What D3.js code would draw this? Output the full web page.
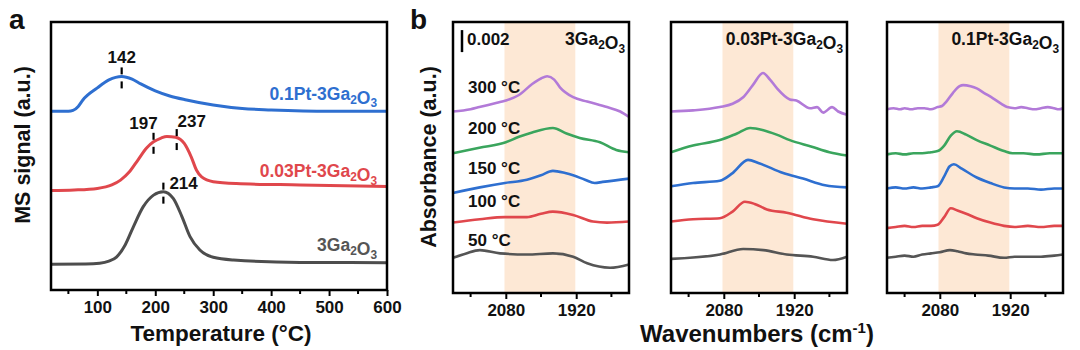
<!DOCTYPE html>
<html><head><meta charset="utf-8">
<script src="https://cdn.jsdelivr.net/npm/d3@7"></script>
<style>body{margin:0;background:#fff}svg{display:block;font-family:Arial,"Liberation Sans",sans-serif;font-weight:bold}</style>
</head><body>
<svg id="c" width="1080" height="350"></svg>
<script>
// ---------- Panel a : MS signal vs temperature ----------
const tempTicks = [100, 200, 300, 400, 500, 600];
const tempMinor = [50, 150, 250, 350, 450, 550];
const msNames = ["0.1Pt-3Ga2O3", "0.03Pt-3Ga2O3", "3Ga2O3"];
const msPt01 = [[20,6.67],[50,6.67],[58,6.70],[67,6.85],[75,7.09],[100,7.54],[120,7.84],[142,7.97],[160,7.87],[175,7.69],[200,7.43],[225,7.24],[254,7.09],[300,6.90],[350,6.77],[400,6.72],[500,6.67],[600,6.67]];
const msPt003 = [[20,3.71],[60,3.73],[100,3.79],[125,3.92],[140,4.10],[155,4.40],[170,4.85],[185,5.30],[197,5.53],[210,5.67],[220,5.73],[235,5.70],[250,5.47],[262,4.97],[271,4.48],[280,4.22],[300,4.04],[340,3.97],[450,3.92],[600,3.86]];
const msGa = [[20,0.96],[80,0.97],[104,1.00],[120,1.08],[133,1.23],[148,1.68],[162,2.35],[179,3.10],[197,3.54],[214,3.67],[231,3.42],[246,2.74],[260,1.99],[277,1.49],[300,1.22],[335,1.12],[450,1.03],[600,1.02]];
const peakTemps = [[142], [197, 237], [214]];

// ---------- Panel b : DRIFTS spectra (absorbance, 1e-3 a.u.) ----------
const wnTicks = [2080, 1920];
const wnMinor = [2160, 2000, 1840];
const bandRange = [2083, 1922];
const tempLabels = ["50 °C", "100 °C", "150 °C", "200 °C", "300 °C"];
const sampleNames = ["3Ga2O3", "0.03Pt-3Ga2O3", "0.1Pt-3Ga2O3"];
const scaleBar = 2; // 0.002 a.u.

const ga_50  = [[2200,3.2],[2170,3.6],[2139,3.9],[2093,3.6],[2032,3.5],[1973,3.6],[1927,3.3],[1895,2.7],[1843,2.3],[1800,2.6]];
const ga_100 = [[2200,6.4],[2139,6.7],[2082,6.9],[2032,6.9],[2000,7.2],[1973,7.4],[1927,7.1],[1882,6.5],[1850,6.4],[1800,6.5]];
const ga_150 = [[2200,9.1],[2139,9.6],[2082,10.0],[2032,10.3],[2000,10.7],[1973,11.1],[1945,10.9],[1927,10.7],[1900,10.3],[1878,10.0],[1860,10.1],[1800,10.4]];
const ga_200 = [[2200,12.7],[2140,13.2],[2080,13.7],[2050,14.2],[2020,14.6],[1973,15.0],[1942,14.5],[1912,14.1],[1866,13.7],[1829,13.0],[1800,12.8]];
const ga_300 = [[2200,16.5],[2160,16.7],[2140,16.9],[2100,17.3],[2080,17.5],[2050,18.0],[2020,19.0],[2000,19.5],[1986,19.7],[1970,19.4],[1957,18.7],[1927,17.8],[1895,17.4],[1850,16.9],[1820,16.5],[1800,16.0]];

const pt003_50  = [[2200,3.1],[2089,3.5],[2036,4.0],[1990,3.9],[1937,3.5],[1877,3.3],[1832,3.0],[1800,3.3]];
const pt003_100 = [[2200,6.5],[2150,6.7],[2089,6.8],[2060,7.4],[2032,8.3],[2010,8.1],[1982,7.6],[1937,7.3],[1877,6.7],[1800,6.3]];
const pt003_150 = [[2200,9.7],[2150,10.0],[2089,10.2],[2060,10.9],[2025,12.1],[2000,11.8],[1945,10.9],[1900,10.4],[1850,9.8],[1800,9.6]];
const pt003_200 = [[2200,12.8],[2150,13.4],[2089,13.9],[2050,14.5],[2020,15.0],[1990,14.8],[1960,14.4],[1930,13.9],[1880,13.3],[1840,12.8],[1800,12.5]];
const pt003_300 = [[2200,16.5],[2150,16.6],[2089,16.9],[2060,17.2],[2036,17.8],[2014,18.9],[1991,20.0],[1975,19.4],[1959,18.6],[1930,17.6],[1915,17.5],[1884,16.8],[1868,16.9],[1854,16.4],[1834,16.9],[1820,16.5],[1800,16.2]];

const pt01_50  = [[2200,3.2],[2180,3.3],[2160,3.4],[2140,3.3],[2120,3.5],[2100,3.6],[2080,3.7],[2057,3.9],[2040,3.8],[2020,3.6],[2000,3.5],[1970,3.4],[1934,3.2],[1910,3.3],[1880,3.3],[1850,3.3],[1820,3.4],[1800,3.5]];
const pt01_100 = [[2200,5.9],[2180,6.0],[2160,6.1],[2140,6.0],[2120,6.1],[2100,6.1],[2085,6.2],[2070,6.9],[2055,7.7],[2040,7.5],[2020,7.2],[1996,6.8],[1965,6.4],[1934,6.1],[1910,6.0],[1880,6.1],[1850,6.0],[1820,6.1],[1800,6.1]];
const pt01_150 = [[2200,9.5],[2180,9.6],[2160,9.5],[2140,9.6],[2120,9.5],[2100,9.6],[2085,9.7],[2070,10.6],[2058,11.5],[2048,11.7],[2030,11.3],[1996,10.5],[1965,10.0],[1934,9.6],[1910,9.5],[1880,9.5],[1850,9.4],[1820,9.5],[1800,9.5]];
const pt01_200 = [[2200,12.6],[2180,12.7],[2160,12.6],[2140,12.7],[2120,12.7],[2100,12.8],[2085,12.9],[2070,13.4],[2055,14.3],[2041,14.7],[2020,14.4],[1996,13.9],[1965,13.4],[1934,12.9],[1915,12.7],[1890,12.7],[1860,12.6],[1830,12.7],[1800,12.7]];
const pt01_300 = [[2200,16.7],[2185,16.8],[2170,16.7],[2160,16.8],[2145,16.7],[2130,16.8],[2115,16.8],[2100,16.7],[2085,16.9],[2075,17.0],[2065,17.4],[2050,18.2],[2035,18.8],[2027,18.9],[2010,18.8],[1996,18.6],[1980,18.2],[1959,17.7],[1940,17.2],[1927,16.9],[1910,16.8],[1895,16.9],[1880,16.8],[1865,16.7],[1850,16.8],[1835,16.9],[1820,16.8],[1810,16.7],[1800,16.8]];

// ---------- drawing ----------
const svg = d3.select("#c");
const FONT = 'Arial,"Liberation Sans",sans-serif';
const tempColors = ["#555555", "#e0474c", "#2e6fd0", "#3aa55d", "#b27ad8"];
const msColors = ["#2e6fd0", "#e0474c", "#4d4d4d"];
const msLabelColors = ["#2e6fd0", "#e0474c", "#555555"];

function formula(sel, str, size) {
  // digits directly after a letter are subscripts
  let buf = "";
  str.split("").forEach((ch, i) => {
    const prev = str[i - 1];
    const sub = /[0-9]/.test(ch) && prev && /[A-Za-z]/.test(prev);
    if (sub) {
      if (buf) { sel.append("tspan").text(buf); buf = ""; }
      sel.append("tspan").attr("font-size", size * 0.68).attr("dy", size * 0.22).text(ch);
      sel.append("tspan").attr("dy", -size * 0.22).text("");
    } else buf += ch;
  });
  if (buf) sel.append("tspan").text(buf);
}

function frame(g, x0, y0, w, h) {
  g.append("rect").attr("x", x0).attr("y", y0).attr("width", w).attr("height", h)
    .attr("fill", "none").attr("stroke", "#000").attr("stroke-width", 2.5);
}

// Panel a
{
  const L = 51, R = 387, T = 22, B = 290;
  const x = d3.scaleLinear().domain([20, 600]).range([L, R]);
  const y = d3.scaleLinear().domain([0, 10]).range([B, T]);
  const g = svg.append("g");
  const line = d3.line().x(d => x(d[0])).y(d => y(d[1])).curve(d3.curveMonotoneX);
  const series = [msPt01, msPt003, msGa];
  series.forEach((s, i) => {
    g.append("path").attr("d", line(s)).attr("fill", "none").attr("stroke", msColors[i])
      .attr("stroke-width", 3).attr("stroke-linejoin", "round");
  });
  const interp = (s, t) => {
    for (let k = 0; k < s.length - 1; k++) if (t >= s[k][0] && t <= s[k + 1][0]) {
      const f = (t - s[k][0]) / (s[k + 1][0] - s[k][0]); return s[k][1] + f * (s[k + 1][1] - s[k][1]);
    } return s[s.length - 1][1];
  };
  const labelOffsets = [[[0, -18, "middle"]], [[-10, -17, "middle"], [15, -16, "middle"]], [[6, -7, "start"]]];
  peakTemps.forEach((pts, i) => pts.forEach((t, j) => {
    const px = x(t), py = y(interp(series[i], t));
    g.append("line").attr("x1", px).attr("x2", px).attr("y1", py - 9).attr("y2", py - 2).attr("stroke", "#000").attr("stroke-width", 2.2);
    g.append("line").attr("x1", px).attr("x2", px).attr("y1", py + 5).attr("y2", py + 12).attr("stroke", "#000").attr("stroke-width", 2.2);
    const o = labelOffsets[i][j];
    g.append("text").attr("x", px + o[0]).attr("y", py + o[1]).attr("text-anchor", o[2])
      .attr("dominant-baseline", "middle").attr("font-size", 17).attr("fill", "#111").text(t);
  }));
  const labY = [7.1, 4.2, 1.45];
  msNames.forEach((n, i) => {
    const t = g.append("text").attr("x", 377).attr("y", y(labY[i])).attr("text-anchor", "end")
      .attr("font-size", 17.5).attr("fill", msLabelColors[i]);
    formula(t, n, 17.5);
  });
  frame(g, L, T, R - L, B - T);
  const ax = g.append("g").attr("transform", `translate(0,${B})`)
    .call(d3.axisBottom(x).tickValues(tempTicks).tickFormat(d3.format("d")).tickSize(6).tickPadding(5));
  ax.select(".domain").remove();
  ax.selectAll("line").attr("stroke-width", 2);
  ax.selectAll("text").attr("font-size", 17).attr("font-family", FONT).attr("font-weight", "bold").attr("fill", "#111");
  g.selectAll(".mt").data(tempMinor).join("line").attr("x1", d => x(d)).attr("x2", d => x(d))
    .attr("y1", B).attr("y2", B + 4).attr("stroke", "#000").attr("stroke-width", 2);
  g.append("text").attr("x", (L + R) / 2 + 2).attr("y", 341).attr("text-anchor", "middle").attr("font-size", 22.5).attr("fill", "#111").text("Temperature (°C)");
  g.append("text").attr("transform", `translate(30,145) rotate(-90)`).attr("text-anchor", "middle").attr("font-size", 21.5).attr("fill", "#111").text("MS signal (a.u.)");
  g.append("text").attr("x", 9).attr("y", 29).attr("font-size", 28).attr("fill", "#111").text("a");
}

// Panel b
{
  const subs = [
    { L: 453, data: [ga_50, ga_100, ga_150, ga_200, ga_300] },
    { L: 671, data: [pt003_50, pt003_100, pt003_150, pt003_200, pt003_300] },
    { L: 887, data: [pt01_50, pt01_100, pt01_150, pt01_200, pt01_300] }
  ];
  const W = 176, T = 22, B = 293;
  const y = d3.scaleLinear().domain([0, 271 / 11]).range([B, T]);
  subs.forEach((s, si) => {
    const g = svg.append("g");
    const x = d3.scaleLinear().domain([2200, 1800]).range([s.L, s.L + W]);
    g.append("rect").attr("x", x(bandRange[0])).attr("y", T).attr("width", x(bandRange[1]) - x(bandRange[0]))
      .attr("height", B - T).attr("fill", "#fde8d5");
    const line = d3.line().x(d => x(d[0])).y(d => y(d[1])).curve(d3.curveMonotoneX);
    s.data.forEach((d, i) => {
      g.append("path").attr("d", line(d)).attr("fill", "none").attr("stroke", tempColors[i])
        .attr("stroke-width", 2.6).attr("stroke-linejoin", "round");
    });
    frame(g, s.L, T, W, B - T);
    const ax = g.append("g").attr("transform", `translate(0,${B})`)
      .call(d3.axisBottom(x).tickValues(wnTicks).tickFormat(d3.format("d")).tickSize(6).tickPadding(5));
    ax.select(".domain").remove();
    ax.selectAll("line").attr("stroke-width", 2);
    ax.selectAll("text").attr("font-size", 17).attr("font-family", FONT).attr("font-weight", "bold").attr("fill", "#111");
    g.selectAll(".mt").data(wnMinor).join("line").attr("x1", d => x(d)).attr("x2", d => x(d))
      .attr("y1", B).attr("y2", B + 4).attr("stroke", "#000").attr("stroke-width", 2);
    const t = g.append("text").attr("x", s.L + W - 4).attr("y", 45).attr("text-anchor", "end").attr("font-size", 17.5).attr("fill", "#111");
    formula(t, sampleNames[si], 17.5);
    if (si === 0) {
      g.append("line").attr("x1", s.L + 9).attr("x2", s.L + 9).attr("y1", y(21.9)).attr("y2", y(21.9 + scaleBar))
        .attr("stroke", "#000").attr("stroke-width", 2.5);
      g.append("text").attr("x", s.L + 14).attr("y", 45).attr("font-size", 17).attr("fill", "#111").text("0.00" + scaleBar);
      const labVals = [4.7, 8.2, 11.2, 14.9, 18.6];
      tempLabels.forEach((lab, i) => {
        g.append("text").attr("x", s.L + 15).attr("y", y(labVals[i])).attr("dominant-baseline", "middle")
          .attr("font-size", 17).attr("fill", "#111").text(lab);
      });
    }
  });
  svg.append("text").attr("x", 757).attr("y", 342).attr("text-anchor", "middle").attr("font-size", 24).attr("fill", "#111")
    .html('Wavenumbers (cm<tspan font-size="15" dy="-9">-1</tspan><tspan dy="9">)</tspan>');
  svg.append("text").attr("transform", `translate(436,157) rotate(-90)`).attr("text-anchor", "middle")
    .attr("font-size", 21.5).attr("fill", "#111").text("Absorbance (a.u.)");
  svg.append("text").attr("x", 410).attr("y", 29).attr("font-size", 28).attr("fill", "#111").text("b");
}
</script>
</body></html>
